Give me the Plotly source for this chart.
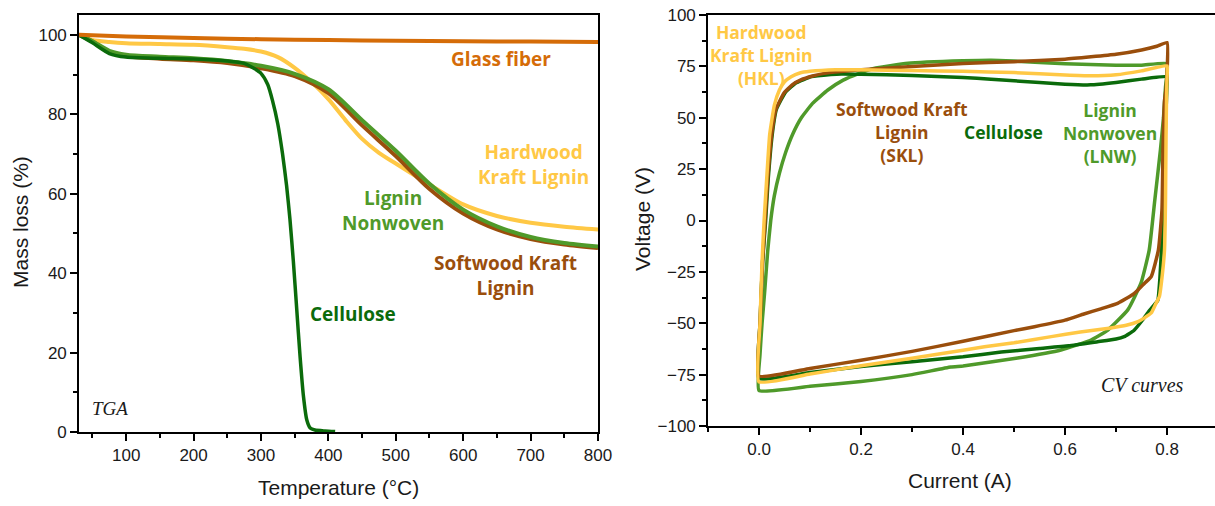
import plotly.graph_objects as go

# ---------------- TGA data (Temperature °C, mass %) ----------------
glass_T = [30, 100, 200, 300, 400, 500, 600, 700, 800]
glass_m = [100, 99.6, 99.2, 98.9, 98.7, 98.5, 98.4, 98.3, 98.2]

hkl_T = [30, 50, 75, 100, 150, 200, 250, 275, 300, 325, 350, 375, 400, 425, 450, 475, 500, 550, 600, 650, 700, 750, 800]
hkl_m = [100, 98.7, 98.2, 97.9, 97.7, 97.5, 96.9, 96.5, 95.8, 94.4, 91.7, 88.1, 83.8, 78.6, 73.8, 70.3, 67.6, 62.3, 57.3, 54.4, 52.7, 51.7, 51.0]

skl_T = [30, 50, 75, 100, 150, 200, 250, 300, 350, 400, 450, 500, 550, 600, 650, 700, 750, 800]
skl_m = [100, 98.3, 95.6, 94.6, 94.0, 93.6, 92.9, 91.6, 89.6, 85.3, 77.2, 69.5, 61.2, 55.0, 51.0, 48.6, 47.2, 46.3]

lnw_T = [30, 50, 75, 100, 150, 200, 250, 300, 350, 400, 450, 500, 550, 600, 650, 700, 750, 800]
lnw_m = [100, 98.4, 96.0, 95.0, 94.5, 94.1, 93.4, 92.2, 90.2, 86.3, 78.5, 70.8, 62.5, 56.0, 51.8, 49.1, 47.6, 46.7]

cel_T = [30, 50, 75, 100, 150, 200, 250, 275, 290, 300, 310, 317, 325, 332, 338, 343, 348, 353, 358, 363, 368, 373, 380, 395, 410]
cel_m = [100, 98.0, 95.3, 94.4, 94.1, 93.9, 93.4, 92.8, 91.5, 90.3, 87.5, 83.5, 77.5, 70.0, 62.0, 53.5, 43.0, 31.0, 19.0, 9.0, 3.0, 1.0, 0.5, 0.25, 0.1]

# ---------------- CV data (Current A, Voltage V), closed loops ----------------
hkl_I = [0.0, 0.002, 0.006, 0.010, 0.015, 0.021, 0.030, 0.040, 0.050, 0.063, 0.080, 0.100, 0.150, 0.200, 0.300, 0.400, 0.500, 0.600, 0.650, 0.700, 0.750, 0.800,
         0.800, 0.799, 0.798, 0.797, 0.795, 0.790, 0.785, 0.777, 0.769, 0.755, 0.743, 0.720, 0.690, 0.630, 0.573, 0.500, 0.442, 0.400, 0.300, 0.200, 0.100, 0.0]
hkl_V = [-78.5, -50, -20, 0, 20, 42, 56, 63.5, 67.5, 70, 71.8, 72.6, 73.4, 73.3, 73.0, 72.6, 72.0, 70.8, 70.4, 70.9, 72.8, 75.2,
         70, 60, 40, 10, -14.4, -28, -37, -41, -45, -47.5, -49.2, -51, -52.3, -54.3, -56.5, -59.5, -61.4, -63.1, -67, -70.7, -74.7, -78.5]

skl_I = [0.0, 0.002, 0.007, 0.012, 0.017, 0.025, 0.033, 0.049, 0.065, 0.082, 0.105, 0.128, 0.160, 0.193, 0.300, 0.400, 0.500, 0.600, 0.700, 0.750, 0.780, 0.800,
         0.800, 0.798, 0.795, 0.792, 0.790, 0.783, 0.769, 0.756, 0.743, 0.733, 0.704, 0.670, 0.637, 0.600, 0.540, 0.500, 0.400, 0.300, 0.200, 0.100, 0.0]
skl_V = [-75.7, -50, -20, 0, 20, 42, 54, 62, 66, 68.4, 70.3, 71.6, 72.5, 73.2, 75.0, 76.4, 77.3, 78.5, 80.9, 83.0, 84.8, 86.6,
         72, 64, 58, 34.3, 5, -14.4, -27.3, -30.5, -33.8, -36, -40.2, -43, -45.5, -48.5, -51.7, -53.6, -58.8, -63.7, -68, -72, -75.7]

cel_I = [0.0, 0.002, 0.007, 0.013, 0.018, 0.026, 0.034, 0.052, 0.073, 0.103, 0.141, 0.161, 0.200, 0.300, 0.400, 0.455, 0.500, 0.600, 0.650, 0.700, 0.750, 0.800,
         0.800, 0.799, 0.796, 0.792, 0.789, 0.786, 0.782, 0.775, 0.765, 0.752, 0.735, 0.716, 0.700, 0.664, 0.607, 0.550, 0.475, 0.400, 0.300, 0.200, 0.100, 0.0]
cel_V = [-76.9, -50, -20, 0, 20, 42, 54, 62.5, 67, 70, 71, 71.3, 71.2, 70.6, 69.6, 68.7, 68.0, 66.3, 66.0, 67.2, 68.8, 69.9,
         66, 60, 40, 10, -14.4, -28, -38.7, -41, -44, -48.4, -53.5, -56.5, -57.7, -59, -61, -62.3, -64, -66.3, -68.7, -71.1, -74, -76.9]

lnw_I = [0.0, 0.002, 0.006, 0.011, 0.017, 0.023, 0.030, 0.040, 0.052, 0.066, 0.083, 0.105, 0.135, 0.165, 0.195, 0.225, 0.292, 0.400, 0.455, 0.500, 0.600, 0.700, 0.750, 0.800,
         0.800, 0.797, 0.793, 0.787, 0.776, 0.765, 0.749, 0.723, 0.684, 0.651, 0.592, 0.507, 0.400, 0.376, 0.300, 0.200, 0.100, 0.0]
lnw_V = [-82.7, -65, -50, -35, -15, 0, 12, 23, 33, 42, 50, 57, 63.5, 68.3, 71.5, 74.0, 76.5, 77.7, 78.0, 77.6, 76.3, 75.6, 75.6, 76.4,
         72, 65, 50, 34.3, 10, -14.4, -30.4, -43.5, -53.3, -58.2, -63, -66.9, -70.8, -71.3, -75, -78.4, -80.7, -82.7]

# ---------------- styles ----------------
C_GLASS = "#D56C08"
C_HKL = "#FFC845"
C_SKL = "#9A4E0C"
C_LNW = "#4F9A2A"
C_CEL = "#0B6B0B"

W, H = 1215, 506
TICKFONT = dict(family="Liberation Sans, Arial, sans-serif", size=17, color="#1a1a1a")
TITLEFONT = dict(family="Liberation Sans, Arial, sans-serif", size=21, color="#1a1a1a")
LBL = "Open Sans, sans-serif"

fig = go.Figure()

def add(x, y, color, width, xa, ya, smooth):
    fig.add_trace(go.Scatter(x=x, y=y, mode="lines",
                             line=dict(color=color, width=width, shape="spline", smoothing=smooth),
                             xaxis=xa, yaxis=ya, showlegend=False, hoverinfo="skip"))

# TGA
add(hkl_T, hkl_m, C_HKL, 4, "x", "y", 0.8)
add(skl_T, skl_m, C_SKL, 4, "x", "y", 0.8)
add(lnw_T, lnw_m, C_LNW, 4, "x", "y", 0.8)
add(cel_T, cel_m, C_CEL, 3.5, "x", "y", 0.6)
add(glass_T, glass_m, C_GLASS, 4, "x", "y", 0.8)

# CV
add(lnw_I, lnw_V, C_LNW, 3.5, "x2", "y2", 0.4)
add(cel_I, cel_V, C_CEL, 3.5, "x2", "y2", 0.4)
add(skl_I, skl_V, C_SKL, 3.5, "x2", "y2", 0.4)
add(hkl_I, hkl_V, C_HKL, 3.5, "x2", "y2", 0.4)

axis_common = dict(showgrid=False, zeroline=False, showline=True, linecolor="black", linewidth=1.6,
                   ticks="outside", ticklen=7, tickwidth=1.6, tickcolor="black", tickfont=TICKFONT,
                   automargin=False)

fig.update_layout(
    width=W, height=H, margin=dict(l=0, r=0, t=0, b=0),
    paper_bgcolor="white", plot_bgcolor="white",
    xaxis=dict(domain=[79 / W, 598 / W], range=[30, 800], tick0=0, dtick=100, mirror=True,
               minor=dict(dtick=50, tick0=0, ticks="outside", ticklen=4, tickwidth=1.6, tickcolor="black"),
               anchor="y", **axis_common),
    yaxis=dict(domain=[74 / H, 491 / H], range=[0, 105], tick0=0, dtick=20, mirror=True,
               minor=dict(dtick=10, tick0=0, ticks="outside", ticklen=4, tickwidth=1.6, tickcolor="black"),
               anchor="x", **axis_common),
    xaxis2=dict(domain=[708 / W, 1.0], range=[-0.1, 0.894], tick0=0, dtick=0.2, tickformat=".1f", mirror=True,
                minor=dict(dtick=0.1, tick0=0, ticks="outside", ticklen=4, tickwidth=1.6, tickcolor="black"),
                anchor="y2", **axis_common),
    yaxis2=dict(domain=[80 / H, 491 / H], range=[-100, 100], tick0=0, dtick=25, mirror=False,
                minor=dict(dtick=12.5, tick0=0, ticks="outside", ticklen=4, tickwidth=1.6, tickcolor="black"),
                anchor="x2", **axis_common),
)

def lab(text, x, y, color, size, xref="x", yref="y", family=LBL, xanchor="center"):
    fig.add_annotation(text=text, x=x, y=y, xref=xref, yref=yref, showarrow=False,
                       font=dict(family=family, size=size, color=color), xanchor=xanchor,
                       yanchor="middle", align="center")

# TGA labels
lab("<b>Glass fiber</b>", 656, 94.0, C_GLASS, 19)
lab("<b>Hardwood<br>Kraft Lignin</b>", 705, 67.3, C_HKL, 19)
lab("<b>Lignin<br>Nonwoven</b>", 496, 55.7, C_LNW, 19)
lab("<b>Softwood Kraft<br>Lignin</b>", 663, 39.5, C_SKL, 19)
lab("<b>Cellulose</b>", 436, 29.7, C_CEL, 19)
lab("<i>TGA</i>", 46, 6.0, "#1a1a1a", 19, family="Liberation Serif, Times New Roman, serif", xanchor="left")

# CV labels
lab("<b>Hardwood<br>Kraft Lignin<br>(HKL)</b>", 0.004, 80.4, C_HKL, 17.5, "x2", "y2")
lab("<b>Softwood Kraft<br>Lignin<br>(SKL)</b>", 0.281, 43.0, C_SKL, 17.5, "x2", "y2")
lab("<b>Cellulose</b>", 0.479, 42.9, C_CEL, 17.5, "x2", "y2")
lab("<b>Lignin<br>Nonwoven<br>(LNW)</b>", 0.689, 42.7, C_LNW, 17.5, "x2", "y2")
lab("<i>CV curves</i>", 0.752, -80.1, "#1a1a1a", 20, "x2", "y2", family="Liberation Serif, Times New Roman, serif")

# Axis titles
def title(text, px, py, angle=0):
    fig.add_annotation(text=text, x=px / W, y=1 - py / H, xref="paper", yref="paper", showarrow=False,
                       font=TITLEFONT, textangle=angle, xanchor="center", yanchor="middle")

title("Mass loss (%)", 20, 222, -90)
title("Temperature (°C)", 338, 487)
title("Voltage (V)", 643, 219, -90)
title("Current (A)", 960, 480)

fig.write_html("out.html")
